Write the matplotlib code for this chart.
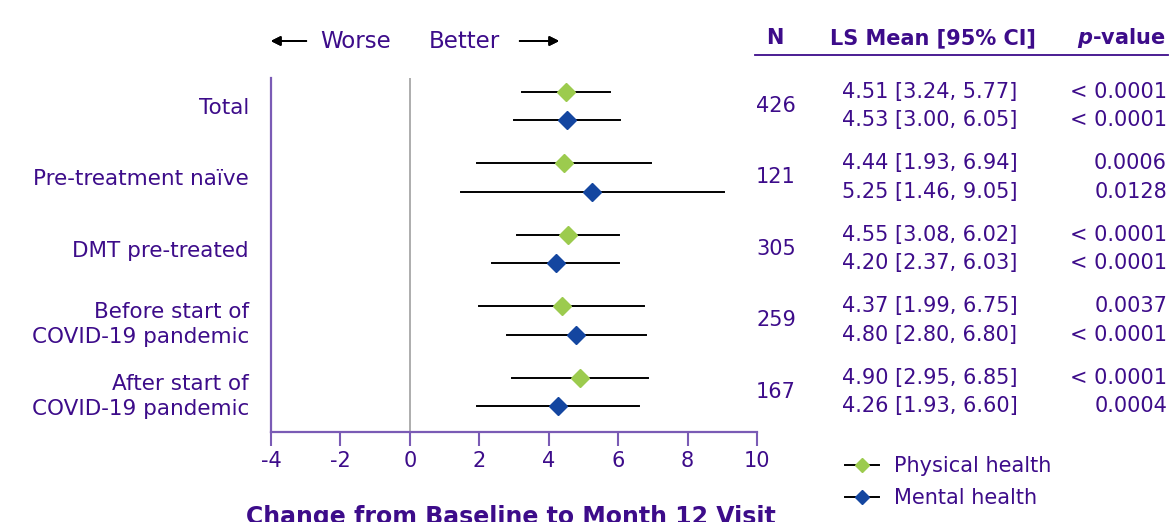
import matplotlib
matplotlib.use("Agg")
import matplotlib.pyplot as plt
import matplotlib.transforms as mtransforms
from matplotlib.lines import Line2D

plt.rcParams["font.family"] = ["DejaVu Sans"]
plt.rcParams["axes.unicode_minus"] = False

# ---- data ----
subgroups = ["Total", "Pre-treatment naïve", "DMT pre-treated",
             "Before start of\nCOVID-19 pandemic", "After start of\nCOVID-19 pandemic"]
n_patients = [426, 121, 305, 259, 167]

phys_mean = [4.51, 4.44, 4.55, 4.37, 4.90]
phys_low = [3.24, 1.93, 3.08, 1.99, 2.95]
phys_high = [5.77, 6.94, 6.02, 6.75, 6.85]
phys_p = ["< 0.0001", "0.0006", "< 0.0001", "0.0037", "< 0.0001"]

ment_mean = [4.53, 5.25, 4.20, 4.80, 4.26]
ment_low = [3.00, 1.46, 2.37, 2.80, 1.93]
ment_high = [6.05, 9.05, 6.03, 6.80, 6.60]
ment_p = ["< 0.0001", "0.0128", "< 0.0001", "< 0.0001", "0.0004"]

x_ticks = [-4, -2, 0, 2, 4, 6, 8, 10]

# ---- styling ----
TEXT = "#3D0C8A"
AXIS = "#7A5BB5"
GREEN = "#9CCB4E"
BLUE = "#1446A0"
FS = 15

fig = plt.figure(figsize=(11.71, 5.22), dpi=100)
ax = fig.add_axes([271 / 1171, 90 / 522, 486 / 1171, 354 / 522])

offset = 0.2
for i in range(len(subgroups)):
    for mean, lo, hi, col, dy in [
        (phys_mean[i], phys_low[i], phys_high[i], GREEN, -offset),
        (ment_mean[i], ment_low[i], ment_high[i], BLUE, offset),
    ]:
        y = i + dy
        ax.plot([lo, hi], [y, y], color="black", lw=1.4, zorder=2)
        ax.plot([mean], [y], marker="D", ms=9, color=col, mec=col, zorder=3)

ax.axvline(0, color="#A0A0A0", lw=1.2, zorder=1)
ax.set_xlim(-4, 10)
ax.set_ylim(4.56, -0.39)
ax.set_xticks(x_ticks)
ax.set_xticklabels([str(t) for t in x_ticks])
ax.set_yticks(range(len(subgroups)))
ax.set_yticklabels(subgroups, ha="right", multialignment="right", linespacing=1.3)
ax.tick_params(axis="x", colors=AXIS, labelcolor=TEXT, labelsize=FS,
               length=10, width=1.5, pad=4)
ax.tick_params(axis="y", length=0, labelcolor=TEXT, labelsize=15.5, pad=16)
for s in ["top", "right"]:
    ax.spines[s].set_visible(False)
for s in ["left", "bottom"]:
    ax.spines[s].set_color(AXIS)
    ax.spines[s].set_linewidth(1.6)

# ---- right-hand table ----
row_tf = mtransforms.blended_transform_factory(fig.transFigure, ax.transData)
hdr_y = 1 - 38 / 522
fig.text(775 / 1171, hdr_y, "N", color=TEXT, fontsize=15, fontweight="bold",
         ha="center", va="center")
fig.text(933 / 1171, hdr_y, "LS Mean [95% CI]", color=TEXT, fontsize=15,
         fontweight="bold", ha="center", va="center")
fig.text(1166 / 1171, hdr_y, r"$\boldsymbol{p}$-value", color=TEXT, fontsize=15,
         fontweight="bold", ha="right", va="center")
fig.add_artist(Line2D([755 / 1171, 1168 / 1171], [1 - 55 / 522] * 2,
                      transform=fig.transFigure, color=TEXT, lw=1.3))

for i in range(len(subgroups)):
    fig.text(776 / 1171, i, str(n_patients[i]), transform=row_tf, color=TEXT,
             fontsize=FS, ha="center", va="center")
    for mean, lo, hi, p, dy in [
        (phys_mean[i], phys_low[i], phys_high[i], phys_p[i], -offset),
        (ment_mean[i], ment_low[i], ment_high[i], ment_p[i], offset),
    ]:
        fig.text(842 / 1171, i + dy, f"{mean:.2f} [{lo:.2f}, {hi:.2f}]",
                 transform=row_tf, color=TEXT, fontsize=FS, ha="left", va="center")
        fig.text(1167 / 1171, i + dy, p, transform=row_tf, color=TEXT,
                 fontsize=FS, ha="right", va="center")

# ---- direction hints ----
arr_y = 1 - 41 / 522
fig.text(356 / 1171, arr_y, "Worse", color=TEXT, fontsize=16.5, ha="center", va="center")
fig.text(464 / 1171, arr_y, "Better", color=TEXT, fontsize=16.5, ha="center", va="center")
fig.add_artist(plt.annotate("", xy=(268 / 1171, arr_y), xytext=(309 / 1171, arr_y),
                            xycoords=fig.transFigure, textcoords=fig.transFigure,
                            arrowprops=dict(arrowstyle="-|>", color="black", lw=1.4,
                                            mutation_scale=14)))
fig.add_artist(plt.annotate("", xy=(562 / 1171, arr_y), xytext=(517 / 1171, arr_y),
                            xycoords=fig.transFigure, textcoords=fig.transFigure,
                            arrowprops=dict(arrowstyle="-|>", color="black", lw=1.4,
                                            mutation_scale=14)))

# ---- x-axis title ----
fig.text(511 / 1171, 1 - 505 / 522, "Change from Baseline to Month 12 Visit",
         color=TEXT, fontsize=17, fontweight="bold", ha="center", va="top")

# ---- legend ----
handles = [
    Line2D([0], [0], color="black", lw=1.4, marker="D", ms=7.5, mfc=GREEN, mec=GREEN),
    Line2D([0], [0], color="black", lw=1.4, marker="D", ms=7.5, mfc=BLUE, mec=BLUE),
]
leg = fig.legend(handles, ["Physical health", "Mental health"], loc="upper left",
                 bbox_to_anchor=(837 / 1171, 1 - 448 / 522), frameon=False,
                 fontsize=FS, handlelength=1.6, handletextpad=0.75, labelspacing=0.55,
                 borderaxespad=0)
for t in leg.get_texts():
    t.set_color(TEXT)

fig.savefig("out.png", dpi=100)
